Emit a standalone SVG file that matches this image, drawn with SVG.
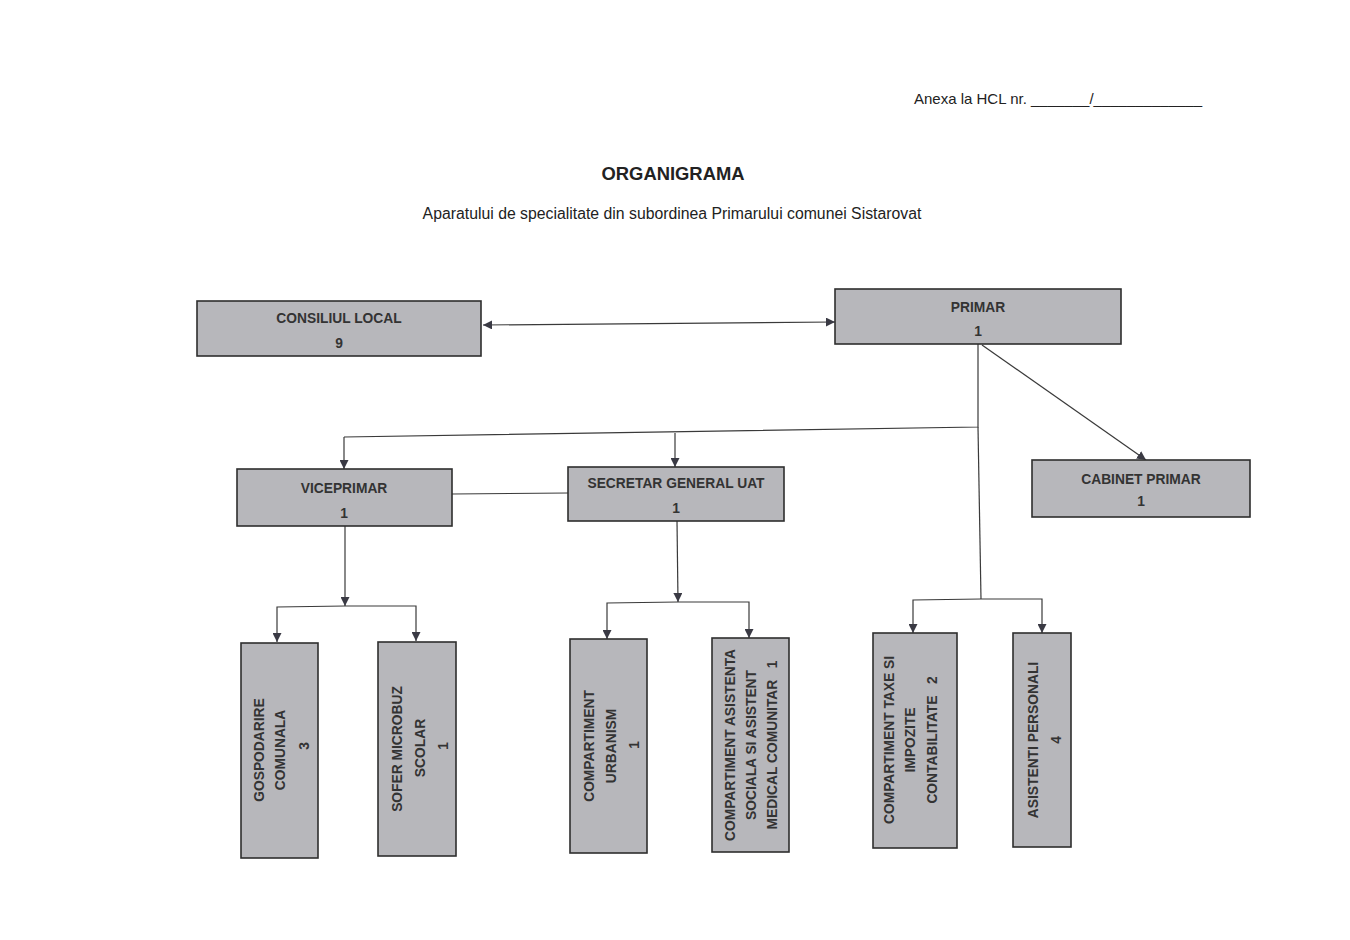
<svg xmlns="http://www.w3.org/2000/svg" width="1350" height="940" viewBox="0 0 1350 940">
<defs>
<marker id="ah" viewBox="0 0 10 10" refX="10" refY="5" markerWidth="9" markerHeight="9" markerUnits="userSpaceOnUse" orient="auto-start-reverse">
<path d="M0,0 L10,5 L0,10 z" fill="#3a3a44"/>
</marker>
<style>
.box{fill:#b7b7bb;stroke:#2e2e2e;stroke-width:1.6}
.t{font-family:"Liberation Sans",Arial,sans-serif;font-weight:bold;font-size:13.8px;fill:#333;text-anchor:middle}
.c{fill:none;stroke:#3a3a3a;stroke-width:1.2}
.a{marker-end:url(#ah)}
.hdr{font-family:"Liberation Sans",Arial,sans-serif;fill:#222}
</style>
</defs>
<rect width="1350" height="940" fill="#ffffff"/>
<text class="hdr" x="914" y="104" font-size="15">Anexa la HCL nr. _______/_____________</text>
<text class="hdr" x="673" y="180" font-size="18.4" font-weight="bold" text-anchor="middle">ORGANIGRAMA</text>
<text class="hdr" x="672" y="219" font-size="15.8" text-anchor="middle">Aparatului de specialitate din subordinea Primarului comunei Sistarovat</text>

<g id="connectors">
<line class="c a" x1="483" y1="325" x2="835" y2="322" marker-start="url(#ah)"/>
<polyline class="c" points="978,344 978,427 344,437"/>
<line class="c a" x1="344" y1="437" x2="344" y2="469"/>
<line class="c a" x1="675" y1="433" x2="675" y2="467"/>
<line class="c" x1="978" y1="427" x2="981" y2="599"/>
<line class="c a" x1="982" y1="345" x2="1146" y2="460"/>
<line class="c" x1="452" y1="494" x2="568" y2="493"/>
<line class="c a" x1="345" y1="526" x2="345" y2="606"/>
<polyline class="c a" points="345,606 277,607 277,642"/>
<polyline class="c a" points="345,606 416,606 416,641"/>
<line class="c a" x1="677" y1="521" x2="678" y2="602"/>
<polyline class="c a" points="678,602 607,603 607,639"/>
<polyline class="c a" points="678,602 749,602 749,638"/>
<polyline class="c a" points="981,599 913,600 913,633"/>
<polyline class="c a" points="981,599 1042,599 1042,633"/>
</g>

<g id="consiliul-local">
<rect class="box" x="197" y="301" width="284" height="55"/>
<text class="t" x="339" y="323">CONSILIUL LOCAL</text>
<text class="t" x="339" y="348">9</text>
</g>
<g id="primar">
<rect class="box" x="835" y="289" width="286" height="55"/>
<text class="t" x="978" y="312">PRIMAR</text>
<text class="t" x="978" y="336">1</text>
</g>
<g id="viceprimar">
<rect class="box" x="237" y="469" width="215" height="57"/>
<text class="t" x="344" y="493">VICEPRIMAR</text>
<text class="t" x="344" y="518">1</text>
</g>
<g id="secretar">
<rect class="box" x="568" y="467" width="216" height="54"/>
<text class="t" x="676" y="488">SECRETAR GENERAL UAT</text>
<text class="t" x="676" y="513">1</text>
</g>
<g id="cabinet">
<rect class="box" x="1032" y="460" width="218" height="57"/>
<text class="t" x="1141" y="484">CABINET PRIMAR</text>
<text class="t" x="1141" y="506">1</text>
</g>

<g id="gospodarire">
<rect class="box" x="241" y="643" width="77" height="215"/>
<g transform="translate(259,750) rotate(-90)"><text class="t" x="0" y="5">GOSPODARIRE</text></g>
<g transform="translate(280,750) rotate(-90)"><text class="t" x="0" y="5">COMUNALA</text></g>
<g transform="translate(304,746) rotate(-90)"><text class="t" x="0" y="5">3</text></g>
</g>
<g id="sofer">
<rect class="box" x="378" y="642" width="78" height="214"/>
<g transform="translate(397,749) rotate(-90)"><text class="t" x="0" y="5">SOFER MICROBUZ</text></g>
<g transform="translate(420,748) rotate(-90)"><text class="t" x="0" y="5">SCOLAR</text></g>
<g transform="translate(443,746) rotate(-90)"><text class="t" x="0" y="5">1</text></g>
</g>
<g id="urbanism">
<rect class="box" x="570" y="639" width="77" height="214"/>
<g transform="translate(589,746) rotate(-90)"><text class="t" x="0" y="5">COMPARTIMENT</text></g>
<g transform="translate(611,746) rotate(-90)"><text class="t" x="0" y="5">URBANISM</text></g>
<g transform="translate(634,745) rotate(-90)"><text class="t" x="0" y="5">1</text></g>
</g>
<g id="asistenta">
<rect class="box" x="712" y="638" width="77" height="214"/>
<g transform="translate(730,745) rotate(-90)"><text class="t" x="0" y="5">COMPARTIMENT ASISTENTA</text></g>
<g transform="translate(751,745) rotate(-90)"><text class="t" x="0" y="5">SOCIALA SI ASISTENT</text></g>
<g transform="translate(772,745) rotate(-90)"><text class="t" x="0" y="5" xml:space="preserve">MEDICAL COMUNITAR   1</text></g>
</g>
<g id="taxe">
<rect class="box" x="873" y="633" width="84" height="215"/>
<g transform="translate(889,740) rotate(-90)"><text class="t" x="0" y="5">COMPARTIMENT TAXE SI</text></g>
<g transform="translate(910,740) rotate(-90)"><text class="t" x="0" y="5">IMPOZITE</text></g>
<g transform="translate(932,740) rotate(-90)"><text class="t" x="0" y="5" xml:space="preserve">CONTABILITATE   2</text></g>
</g>
<g id="asistenti">
<rect class="box" x="1013" y="633" width="58" height="214"/>
<g transform="translate(1033,740) rotate(-90)"><text class="t" x="0" y="5">ASISTENTI PERSONALI</text></g>
<g transform="translate(1056,740) rotate(-90)"><text class="t" x="0" y="5">4</text></g>
</g>
</svg>
